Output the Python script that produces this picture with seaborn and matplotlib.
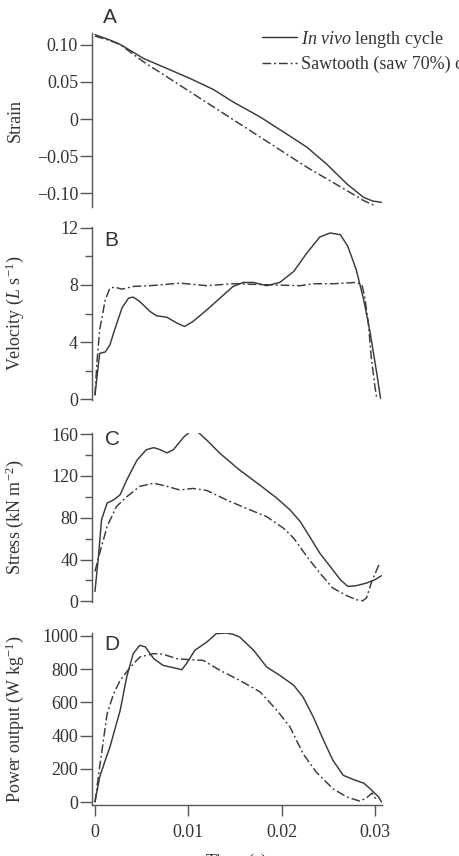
import numpy as np
import pandas as pd
import matplotlib
matplotlib.use("Agg")
import matplotlib.pyplot as plt
import seaborn as sns

# ---------------- data ----------------
series_names = ["In vivo length cycle", "Sawtooth (saw 70%) cycle"]

strain_t_vivo = [0.0, 0.0016, 0.0027, 0.0052, 0.0077, 0.0102, 0.0127, 0.0148, 0.0177,
                 0.0205, 0.0227, 0.0248, 0.0270, 0.0288, 0.0298, 0.0307]
strain_vivo = [0.1140, 0.1067, 0.1008, 0.0818, 0.0683, 0.0547, 0.0398, 0.0231, 0.0027,
               -0.0199, -0.0380, -0.0606, -0.0877, -0.1060, -0.1110, -0.1125]
strain_t_saw = [0.0, 0.0016, 0.0027, 0.0052, 0.0077, 0.0127, 0.0177, 0.0227, 0.0270,
                0.0288, 0.0300]
strain_saw = [0.1120, 0.1060, 0.1005, 0.0773, 0.0570, 0.0163, -0.0244, -0.0651, -0.0967,
              -0.1103, -0.1170]

vel_t_vivo = [0.0, 0.0003, 0.0005, 0.0011, 0.0016, 0.0021, 0.0029, 0.0036, 0.0041, 0.0048,
              0.0059, 0.0066, 0.0077, 0.0088, 0.0096, 0.0105, 0.0120, 0.0134, 0.0148,
              0.0159, 0.0170, 0.0184, 0.0198, 0.0213, 0.0227, 0.0241, 0.0252, 0.0263,
              0.0271, 0.0280, 0.0288, 0.0295, 0.0302, 0.0306]
vel_vivo = [0.28, 2.04, 3.2, 3.3, 3.8, 4.85, 6.4, 7.08, 7.15, 6.84,
            6.14, 5.84, 5.74, 5.32, 5.09, 5.44, 6.26, 7.08, 7.9,
            8.18, 8.18, 7.95, 8.18, 8.95, 10.24, 11.37, 11.65, 11.53,
            10.71, 9.07, 6.96, 4.62, 1.8, 0.05]
vel_t_saw = [0.0, 0.0002, 0.0005, 0.0011, 0.0016, 0.0021, 0.0029, 0.0041, 0.0059,
             0.0091, 0.0120, 0.0148, 0.0184, 0.0220, 0.0234, 0.0256, 0.0280, 0.0286,
             0.0289, 0.0293, 0.0296, 0.0300, 0.0302]
vel_saw = [0.28, 2.5, 4.85, 6.96, 7.78, 7.85, 7.71, 7.9, 7.95,
           8.13, 7.95, 8.09, 8.02, 7.95, 8.09, 8.09, 8.18, 8.02,
           7.2, 5.32, 2.98, 0.87, 0.05]

stress_t_vivo = [0.0, 0.0004, 0.0007, 0.0013, 0.0020, 0.0027, 0.0034, 0.0045, 0.0055,
                 0.0063, 0.0070, 0.0077, 0.0084, 0.0095, 0.0104, 0.0109, 0.0120, 0.0134,
                 0.0155, 0.0177, 0.0195, 0.0209, 0.0220, 0.0230, 0.0241, 0.0252, 0.0263,
                 0.0271, 0.0280, 0.0291, 0.0300, 0.0307]
stress_vivo = [9.5, 46, 78, 94, 97, 102, 116, 135, 145,
               147, 145, 142, 145, 157, 164, 163, 154, 141.5,
               125.6, 111, 98.6, 87.5, 76.3, 62, 46, 33.4, 20.7,
               14.3, 15, 17.5, 20.7, 24.5]
stress_t_saw = [0.0, 0.0005, 0.0013, 0.0023, 0.0034, 0.0048, 0.0063, 0.0077, 0.0091,
                0.0105, 0.0120, 0.0141, 0.0162, 0.0184, 0.0202, 0.0213, 0.0227, 0.0241,
                0.0255, 0.0270, 0.0280, 0.0287, 0.0291, 0.0296, 0.0305]
stress_saw = [28.6, 46, 71.6, 90.7, 100, 110, 113, 110, 106.5,
              108, 106, 97, 89, 81, 70, 60.4, 43, 27,
              12.7, 5.4, 1.6, 0.6, 3.2, 17.5, 36.6]

power_t_vivo = [0.0, 0.0005, 0.0011, 0.0016, 0.0021, 0.0027, 0.0034, 0.0041, 0.0048,
                0.0054, 0.0063, 0.0073, 0.0084, 0.0093, 0.0098, 0.0107, 0.0120, 0.0130,
                0.0141, 0.0148, 0.0155, 0.0170, 0.0184, 0.0198, 0.0213, 0.0223, 0.0234,
                0.0245, 0.0255, 0.0266, 0.0277, 0.0288, 0.0296, 0.0304, 0.0307]
power_vivo = [0, 150, 251, 331, 432, 552, 753, 894, 944,
              934, 863, 823, 809, 797, 833, 914, 964, 1014,
              1018, 1010, 994, 914, 813, 763, 703, 632, 512,
              371, 251, 161, 135, 114, 74, 30, 0]
power_t_saw = [0.0, 0.0005, 0.0013, 0.0020, 0.0027, 0.0038, 0.0048, 0.0063, 0.0073,
               0.0088, 0.0102, 0.0116, 0.0134, 0.0155, 0.0177, 0.0195, 0.0209, 0.0223,
               0.0237, 0.0255, 0.0270, 0.0284, 0.0291, 0.0297, 0.0302]
power_saw = [0, 211, 532, 653, 733, 813, 873, 894, 890,
             863, 857, 853, 793, 733, 663, 552, 452, 291,
             181, 80, 30, 5, 25, 54, 10]

panel_letters = ["A", "B", "C", "D"]
y_labels = ["Strain", "Velocity ($\\it{L}$ s$^{-1}$)", "Stress (kN m$^{-2}$)",
            "Power output (W kg$^{-1}$)"]
strain_ticks = [-0.10, -0.05, 0.0, 0.05, 0.10]
strain_ticklabels = ["\u22120.10", "\u22120.05", "0", "0.05", "0.10"]
vel_ticks = [0, 4, 8, 12]
vel_minor = [2, 6, 10]
stress_ticks = [0, 40, 80, 120, 160]
stress_minor = [20, 60, 100, 140]
power_ticks = [0, 200, 400, 600, 800, 1000]
time_ticks = [0.0, 0.01, 0.02, 0.03]
time_ticklabels = ["0", "0.01", "0.02", "0.03"]

# ---------------- style ----------------
sns.set_theme(style="ticks")
LINE = "#3a3a3a"
TXT = "#333333"
AX = "#555555"
plt.rcParams["font.family"] = ["Liberation Serif", "DejaVu Serif"]
plt.rcParams["mathtext.fontset"] = "custom"
plt.rcParams["mathtext.rm"] = "Liberation Serif"
plt.rcParams["mathtext.it"] = "Liberation Serif:italic"
plt.rcParams["axes.unicode_minus"] = True

fig = plt.figure(figsize=(4.6, 8.56), dpi=100)
W, H = 460.0, 856.0
left_px, right_px = 92, 382
rows = [(33, 207), (227, 400), (433, 602), (633, 805)]
axes = []
for top, bot in rows:
    ax = fig.add_axes([left_px / W, 1 - bot / H, (right_px - left_px) / W, (bot - top) / H])
    axes.append(ax)

SAW_DASH = (0, (6, 2, 1.3, 2))
panels = [
    (strain_t_vivo, strain_vivo, strain_t_saw, strain_saw),
    (vel_t_vivo, vel_vivo, vel_t_saw, vel_saw),
    (stress_t_vivo, stress_vivo, stress_t_saw, stress_saw),
    (power_t_vivo, power_vivo, power_t_saw, power_saw),
]
for ax, (tv, yv, ts, ys) in zip(axes, panels):
    sns.lineplot(x=tv, y=yv, ax=ax, color=LINE, lw=1.05, estimator=None, sort=False,
                 label=series_names[0])
    sns.lineplot(x=ts, y=ys, ax=ax, color=LINE, lw=1.05, estimator=None, sort=False,
                 linestyle=SAW_DASH, label=series_names[1])
    ax.set_xlim(-0.00032, 0.03076)
    for s in ["top", "right"]:
        ax.spines[s].set_visible(False)
    ax.spines["left"].set_color(AX)
    ax.spines["left"].set_linewidth(1.0)
    ax.tick_params(axis="y", which="major", direction="out", length=8.5, width=1.0,
                   color=AX, labelsize=13, labelcolor=TXT, pad=1.5)
    ax.tick_params(axis="y", which="minor", direction="out", length=5, width=1.0, color=AX)
    ax.set_facecolor("none")
    ax.set_xlabel("")
    lg = ax.get_legend()
    if lg is not None:
        lg.remove()

for ax in axes[:3]:
    ax.spines["bottom"].set_visible(False)
    ax.set_xticks([])

axes[0].set_ylim(-0.1189, 0.1162)
axes[0].set_yticks(strain_ticks)
axes[0].set_yticklabels(strain_ticklabels)

axes[1].set_ylim(-0.07, 12.07)
axes[1].set_yticks(vel_ticks)
axes[1].set_yticks(vel_minor, minor=True)

axes[2].set_ylim(-0.6, 161)
axes[2].set_yticks(stress_ticks)
axes[2].set_yticks(stress_minor, minor=True)

axes[3].set_ylim(-18, 1018)
axes[3].set_yticks(power_ticks)
axes[3].spines["bottom"].set_color(AX)
axes[3].spines["bottom"].set_linewidth(1.0)
axes[3].set_xticks(time_ticks)
axes[3].set_xticklabels(time_ticklabels)
axes[3].tick_params(axis="x", direction="out", length=8, width=1.0, color=AX,
                    labelsize=13, labelcolor=TXT, pad=6)

for ax, lab, (top, bot) in zip(axes, y_labels, rows):
    fig.text(15 / W, 1 - (top + bot) / 2 / H, lab, rotation=90, ha="center", va="center",
             fontsize=13, color=TXT)

letter_pos = [(103, 8), (104, 231), (105, 430), (104, 635)]
for lt, (x, y) in zip(panel_letters, letter_pos):
    fig.text(x / W, 1 - y / H, lt, ha="left", va="top", fontsize=15, color=TXT,
             family=["Liberation Sans", "DejaVu Sans"])

fig.text((95 + 0.0152 * 9330) / W, 1 - 852 / H, "Time ($\\it{s}$)", ha="center", va="top",
         fontsize=13, color=TXT)

handles = axes[0].get_lines()[:2]
fig.legend(handles, ["$\\it{In\\ vivo}$ length cycle", "Sawtooth (saw 70%) cycle"],
           loc="center left", bbox_to_anchor=(262 / W, 1 - 51 / H), frameon=False,
           fontsize=13, handlelength=1.95, handletextpad=0.2, borderpad=0,
           borderaxespad=0, labelspacing=0.35, labelcolor=TXT)

fig.savefig("out.png", dpi=100)
